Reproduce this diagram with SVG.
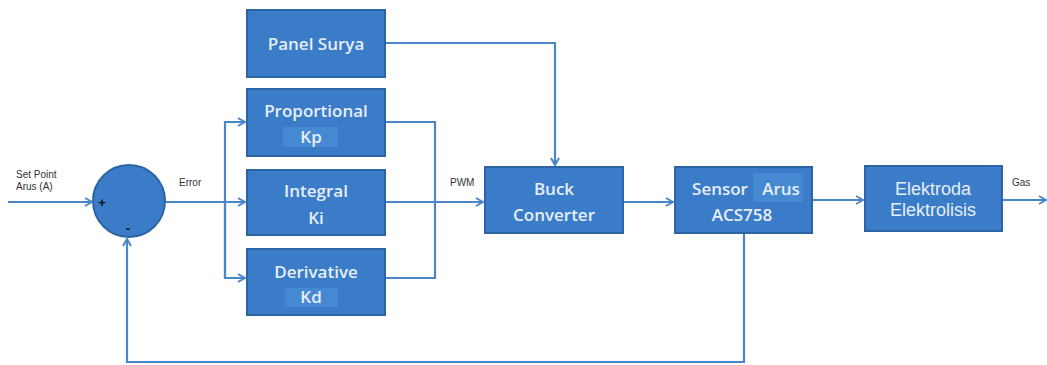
<svg xmlns="http://www.w3.org/2000/svg" width="1047" height="365" viewBox="0 0 1047 365">
<style>
.box{fill:#3b7cc8;stroke:#2c64a4;stroke-width:2}
.hl{fill:#4589d2}
.bt{font-family:"Open Sans","DejaVu Sans",sans-serif;font-size:17px;fill:#e6eef8;text-anchor:middle;font-weight:600}
.bt2{font-family:"Liberation Sans",Arial,sans-serif;font-size:18px;fill:#e6eef8;text-anchor:middle}
.lb{font-family:"Liberation Sans",Arial,sans-serif;font-size:10px;fill:#333}
.ln{fill:none;stroke:#4a86c8;stroke-width:2.2}
</style>
<defs>
<marker id="ah" markerWidth="10" markerHeight="10" refX="8" refY="5" orient="auto" markerUnits="userSpaceOnUse">
<path d="M1,1 L8,5 L1,9" fill="none" stroke="#4a86c8" stroke-width="2"/>
</marker>
</defs>
<rect width="1047" height="365" fill="#ffffff"/>
<g id="connectors">
<path class="ln" d="M8,202 H92" marker-end="url(#ah)"/>
<path class="ln" d="M165,202 H245" marker-end="url(#ah)"/>
<path class="ln" d="M225,278 V122 H245" marker-end="url(#ah)"/>
<path class="ln" d="M225,200 V278 H245" marker-end="url(#ah)"/>
<path class="ln" d="M385,122 H435 V278 H385"/>
<path class="ln" d="M385,202 H483" marker-end="url(#ah)"/>
<path class="ln" d="M385,43 H555 V165" marker-end="url(#ah)"/>
<path class="ln" d="M623,202 H673" marker-end="url(#ah)"/>
<path class="ln" d="M812,200 H863" marker-end="url(#ah)"/>
<path class="ln" d="M1002,200 H1046" marker-end="url(#ah)"/>
<path class="ln" d="M744,233 V362 H127 V239" marker-end="url(#ah)"/>
</g>
<g id="sum">
<circle cx="129" cy="201" r="36" fill="#3b7cc8" stroke="#2c64a4" stroke-width="2"/>
<text x="102" y="207" font-family="Liberation Sans,Arial,sans-serif" font-size="13" font-weight="bold" fill="#111" text-anchor="middle">+</text>
<text x="128" y="233" font-family="Liberation Sans,Arial,sans-serif" font-size="13" font-weight="bold" fill="#111" text-anchor="middle">-</text>
</g>
<g id="labels">
<text class="lb" x="16" y="178">Set Point</text>
<text class="lb" x="16" y="190">Arus (A)</text>
<text class="lb" x="179" y="186">Error</text>
<text class="lb" x="450" y="186">PWM</text>
<text class="lb" x="1012" y="186">Gas</text>
</g>
<g id="panel-surya">
<rect class="box" x="247" y="10" width="138" height="67"/>
<text class="bt" x="316" y="50">Panel Surya</text>
</g>
<g id="proportional">
<rect class="box" x="247" y="89" width="138" height="67"/>
<rect class="hl" x="283" y="127" width="55" height="20"/>
<text class="bt" x="316" y="117">Proportional</text>
<text class="bt" x="311" y="143">Kp</text>
</g>
<g id="integral">
<rect class="box" x="247" y="170" width="138" height="65"/>
<text class="bt" x="316" y="197">Integral</text>
<text class="bt" x="316" y="224">Ki</text>
</g>
<g id="derivative">
<rect class="box" x="247" y="249" width="138" height="66"/>
<rect class="hl" x="285" y="288" width="53" height="19"/>
<text class="bt" x="316" y="278">Derivative</text>
<text class="bt" x="311" y="303">Kd</text>
</g>
<g id="buck-converter">
<rect class="box" x="485" y="167" width="138" height="66"/>
<text class="bt" x="554" y="195">Buck</text>
<text class="bt" x="554" y="221">Converter</text>
</g>
<g id="sensor-arus">
<rect class="box" x="675" y="167" width="137" height="66"/>
<rect class="hl" x="753" y="173" width="50" height="29"/>
<text class="bt" x="720" y="195">Sensor</text>
<text class="bt" x="781" y="195">Arus</text>
<text class="bt" x="742" y="221">ACS758</text>
</g>
<g id="elektroda">
<rect class="box" x="865" y="166" width="137" height="65"/>
<text class="bt2" x="933" y="195">Elektroda</text>
<text class="bt2" x="933" y="216">Elektrolisis</text>
</g>
</svg>
